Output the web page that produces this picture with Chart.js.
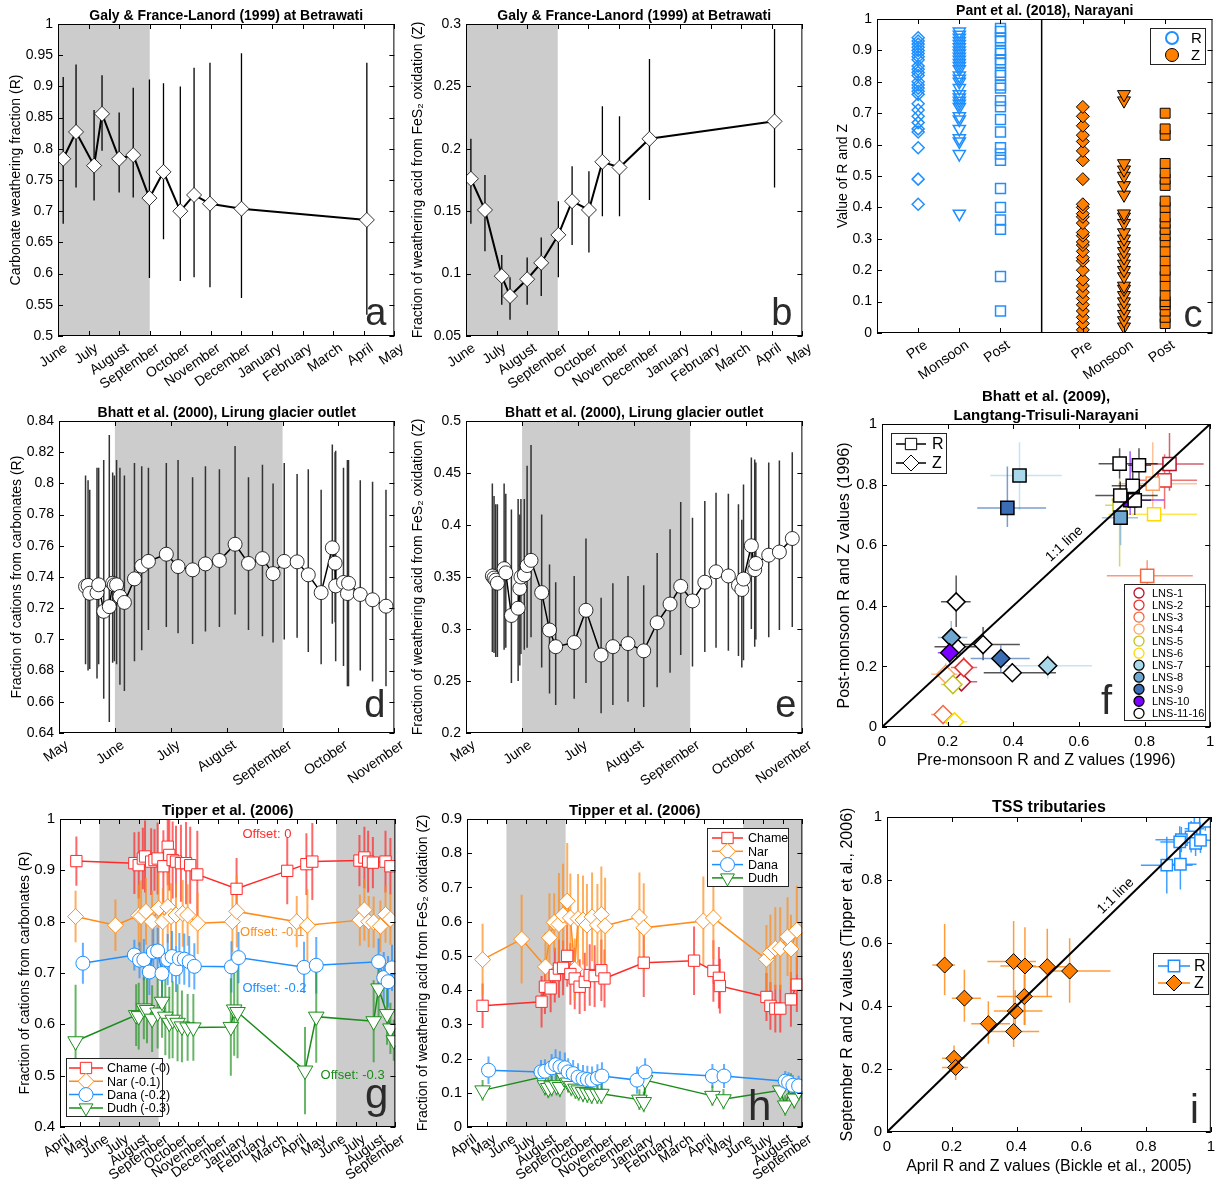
<!DOCTYPE html>
<html>
<head>
<meta charset="utf-8">
<script src="https://cdn.jsdelivr.net/npm/chart.js@4.4.1/dist/chart.umd.min.js"></script>
<style>
  html, body { margin: 0; padding: 0; background: #fff; }
  #root { position: relative; width: 1221px; height: 1184px; overflow: hidden; background: #fff; }
</style>
</head>
<body>
<div id="root"></div>
<script>
// ---------- data ----------
// panel a / b : Galy & France-Lanord (1999), x = months since 1 June
const monthsA = ['June','July','August','September','October','November','December','January','February','March','April','May'];
const aX  = [0.17, 0.59, 1.18, 1.44, 2.0, 2.46, 2.99, 3.45, 4.0, 4.45, 4.97, 6.0, 10.1];
const aY  = [0.784, 0.827, 0.773, 0.856, 0.784, 0.790, 0.721, 0.763, 0.700, 0.726, 0.712, 0.704, 0.686];
const aLo = [0.68, 0.738, 0.717, 0.797, 0.73, 0.722, 0.593, 0.655, 0.588, 0.594, 0.578, 0.561, 0.534];
const aHi = [0.915, 0.935, 0.862, 0.918, 0.858, 0.898, 0.911, 0.905, 0.90, 0.930, 0.938, 0.953, 0.938];
const bX  = [0.16, 0.62, 1.17, 1.44, 2.0, 2.46, 3.02, 3.47, 4.02, 4.46, 5.02, 6.0, 10.09];
const bY  = [0.176, 0.151, 0.098, 0.082, 0.0955, 0.1086, 0.131, 0.158, 0.151, 0.1896, 0.185, 0.208, 0.222];
const bLo = [0.14, 0.118, 0.075, 0.063, 0.075, 0.082, 0.097, 0.123, 0.117, 0.146, 0.146, 0.159, 0.169];
const bHi = [0.208, 0.179, 0.115, 0.097, 0.113, 0.129, 0.158, 0.186, 0.182, 0.234, 0.226, 0.272, 0.296];
const abMonsoon = [0, 3];

// panel c : Pant et al. (2018)
const cPos = [1, 2, 3, 5, 6, 7];
const cTickLabels = ['', 'Pre', 'Monsoon', 'Post', '', 'Pre', 'Monsoon', 'Post'];
const cDividerX = 4;
const cRPre  = [0.41, 0.49, 0.59, 0.64, 0.65, 0.67, 0.69, 0.71, 0.73, 0.76, 0.77, 0.78, 0.79, 0.80, 0.82, 0.83, 0.84, 0.85, 0.87, 0.88, 0.89, 0.90, 0.91, 0.92, 0.93, 0.94];
const cRMon  = [0.38, 0.57, 0.61, 0.62, 0.65, 0.68, 0.69, 0.72, 0.73, 0.74, 0.75, 0.76, 0.78, 0.80, 0.81, 0.82, 0.84, 0.85, 0.86, 0.87, 0.88, 0.89, 0.90, 0.91, 0.92, 0.93, 0.94, 0.95, 0.96];
const cRPost = [0.07, 0.18, 0.33, 0.36, 0.40, 0.46, 0.55, 0.57, 0.59, 0.64, 0.68, 0.72, 0.74, 0.78, 0.79, 0.82, 0.83, 0.86, 0.87, 0.89, 0.90, 0.93, 0.94, 0.96, 0.97];
const cZPre  = [0.01, 0.03, 0.05, 0.07, 0.09, 0.11, 0.13, 0.15, 0.17, 0.20, 0.23, 0.24, 0.26, 0.28, 0.29, 0.31, 0.32, 0.35, 0.37, 0.38, 0.40, 0.41, 0.49, 0.55, 0.58, 0.61, 0.63, 0.66, 0.69, 0.72];
const cZMon  = [0.02, 0.04, 0.06, 0.08, 0.10, 0.12, 0.14, 0.15, 0.18, 0.20, 0.22, 0.24, 0.26, 0.28, 0.30, 0.32, 0.35, 0.37, 0.38, 0.44, 0.47, 0.50, 0.52, 0.54, 0.74, 0.76];
const cZPost = [0.03, 0.05, 0.07, 0.09, 0.10, 0.12, 0.15, 0.18, 0.20, 0.23, 0.26, 0.29, 0.31, 0.33, 0.35, 0.37, 0.40, 0.42, 0.47, 0.49, 0.51, 0.54, 0.63, 0.65, 0.70];

// panel d / e : Bhatt et al. (2000), x = months since 1 May
const monthsD = ['May','June','July','August','September','October','November'];
const deMonsoon = [1, 4];
const dX  = [0.475,0.52,0.55,0.68,0.71,0.80,0.90,0.96,0.99,1.03,1.09,1.17,1.35,1.48,1.60,1.92,2.13,2.39,2.62,2.87,3.15,3.39,3.64,3.83,4.03,4.26,4.46,4.69,4.89,4.94,4.95,5.09,5.16,5.18,5.39,5.61,5.85];
const dY  = [0.734,0.7346,0.7296,0.730,0.735,0.718,0.721,0.736,0.735,0.735,0.7275,0.7237,0.7388,0.747,0.750,0.7546,0.7467,0.7446,0.7484,0.7506,0.761,0.7487,0.7518,0.7422,0.750,0.7497,0.7414,0.730,0.7587,0.7489,0.7343,0.7365,0.7294,0.736,0.7288,0.7254,0.7213];
const dLo = [0.684,0.68,0.681,0.675,0.684,0.662,0.647,0.685,0.686,0.684,0.671,0.667,0.686,0.693,0.706,0.708,0.704,0.697,0.705,0.708,0.716,0.706,0.702,0.698,0.70,0.701,0.692,0.684,0.71,0.711,0.686,0.683,0.67,0.67,0.68,0.673,0.67];
const dHi = [0.805,0.802,0.796,0.81,0.81,0.815,0.831,0.807,0.805,0.815,0.81,0.805,0.813,0.811,0.81,0.813,0.815,0.804,0.811,0.809,0.824,0.804,0.812,0.80,0.813,0.806,0.809,0.796,0.825,0.82,0.821,0.81,0.815,0.815,0.802,0.801,0.796];
const eX  = [0.47,0.50,0.53,0.56,0.68,0.71,0.81,0.93,0.96,0.98,1.04,1.09,1.16,1.35,1.49,1.60,1.93,2.14,2.41,2.62,2.89,3.17,3.41,3.64,3.83,4.04,4.26,4.46,4.68,4.86,4.92,4.95,5.09,5.15,5.17,5.40,5.59,5.82];
const eY  = [0.351,0.349,0.347,0.344,0.358,0.354,0.313,0.320,0.339,0.350,0.352,0.361,0.366,0.335,0.299,0.283,0.287,0.318,0.275,0.283,0.286,0.279,0.306,0.324,0.341,0.327,0.345,0.355,0.351,0.342,0.338,0.348,0.380,0.357,0.363,0.371,0.374,0.387];
const eLo = [0.278,0.277,0.273,0.273,0.28,0.282,0.248,0.25,0.265,0.276,0.28,0.282,0.292,0.263,0.238,0.227,0.233,0.248,0.219,0.227,0.23,0.225,0.244,0.258,0.275,0.264,0.278,0.282,0.279,0.274,0.263,0.27,0.30,0.283,0.29,0.292,0.299,0.302];
const eHi = [0.44,0.428,0.42,0.42,0.44,0.43,0.415,0.425,0.41,0.425,0.425,0.457,0.477,0.41,0.362,0.345,0.351,0.387,0.33,0.344,0.351,0.342,0.373,0.396,0.422,0.407,0.423,0.431,0.43,0.42,0.405,0.439,0.465,0.463,0.46,0.46,0.462,0.47];

// panel f : Bhatt et al. (2009)
const fStations = ['LNS-1','LNS-2','LNS-3','LNS-4','LNS-5','LNS-6','LNS-7','LNS-8','LNS-9','LNS-10','LNS-11-16'];
const fColors = ['#b5152b','#e8312e','#f4683f','#fca464','#c2c21f','#ffd900','#a8d8ea','#6ca6d1','#3b6db4','#7a00ff','#000000'];
const fFilled = [false, false, false, false, false, false, true, true, true, true, false];
const fRSta = [0, 1, 2, 3, 4, 5, 6, 7, 8, 9, 10, 10, 10, 10, 10];
const fRX   = [0.876, 0.861, 0.808, 0.825, 0.724, 0.829, 0.419, 0.727, 0.382, 0.756, 0.724, 0.783, 0.764, 0.726, 0.770];
const fRY   = [0.868, 0.814, 0.499, 0.803, 0.732, 0.702, 0.830, 0.691, 0.723, 0.749, 0.869, 0.864, 0.796, 0.764, 0.748];
const fRXLo = [0.78, 0.77, 0.685, 0.72, 0.68, 0.69, 0.33, 0.67, 0.29, 0.70, 0.66, 0.75, 0.70, 0.65, 0.72];
const fRXHi = [0.98, 0.96, 0.947, 0.96, 0.76, 0.96, 0.548, 0.78, 0.50, 0.86, 0.84, 0.82, 0.83, 0.84, 0.82];
const fRYLo = [0.78, 0.72, 0.46, 0.68, 0.53, 0.69, 0.715, 0.60, 0.66, 0.70, 0.82, 0.82, 0.76, 0.72, 0.70];
const fRYHi = [0.97, 0.90, 0.55, 0.94, 0.82, 0.72, 0.94, 0.75, 0.86, 0.91, 0.92, 0.92, 0.84, 0.81, 0.80];
const fZSta = [10, 10, 10, 10, 6, 7, 8, 9, 0, 1, 2, 3, 4, 5];
const fZX   = [0.226, 0.308, 0.397, 0.226, 0.505, 0.211, 0.362, 0.206, 0.242, 0.249, 0.186, 0.194, 0.216, 0.221];
const fZY   = [0.413, 0.272, 0.179, 0.265, 0.202, 0.295, 0.226, 0.245, 0.149, 0.196, 0.041, 0.174, 0.140, 0.017];
const fZXLo = [0.18, 0.23, 0.31, 0.16, 0.37, 0.17, 0.27, 0.17, 0.20, 0.21, 0.15, 0.15, 0.18, 0.18];
const fZXHi = [0.27, 0.42, 0.53, 0.30, 0.64, 0.26, 0.45, 0.24, 0.29, 0.29, 0.22, 0.23, 0.24, 0.26];
const fZYLo = [0.33, 0.22, 0.15, 0.23, 0.16, 0.26, 0.18, 0.21, 0.12, 0.16, 0.02, 0.14, 0.11, 0.00];
const fZYHi = [0.50, 0.33, 0.21, 0.30, 0.24, 0.35, 0.27, 0.28, 0.18, 0.23, 0.06, 0.21, 0.17, 0.04];

// panel g / h : Tipper et al. (2006), x = months since 1 April
const monthsG = ['April','May','June','July','August','September','October','November','December','January','February','March','April','May','June','July','August','September'];
const ghMonsoon = [[2, 5], [14, 17]];
const gChameX = [0.83,3.77,3.99,4.2,4.31,4.62,4.79,4.95,5.24,5.46,5.54,5.71,5.88,6.13,6.39,6.6,6.96,8.95,11.52,12.49,12.79,15.18,15.43,15.62,15.86,16.5,16.75];
const gChameY = [0.918,0.914,0.91,0.923,0.927,0.917,0.92,0.923,0.908,0.946,0.93,0.92,0.917,0.914,0.914,0.91,0.892,0.864,0.899,0.912,0.917,0.919,0.925,0.917,0.915,0.917,0.908];
const gChameE = [0.048,0.06,0.065,0.06,0.07,0.065,0.06,0.07,0.07,0.075,0.07,0.075,0.07,0.075,0.08,0.075,0.085,0.06,0.065,0.06,0.075,0.05,0.06,0.06,0.05,0.06,0.055];
const gNarX = [0.79,2.81,3.99,4.11,4.36,4.67,5.0,5.21,5.46,5.63,5.88,6.22,6.47,6.98,8.74,8.96,12.0,12.54,15.2,15.43,15.65,15.9,16.24,16.5,16.75];
const gNarY = [0.81,0.793,0.812,0.81,0.82,0.80,0.826,0.80,0.829,0.81,0.813,0.816,0.813,0.797,0.80,0.82,0.80,0.793,0.803,0.823,0.80,0.799,0.791,0.814,0.805];
const gNarE = [0.05,0.05,0.06,0.07,0.065,0.06,0.07,0.065,0.07,0.065,0.06,0.065,0.06,0.06,0.06,0.07,0.05,0.07,0.05,0.06,0.05,0.05,0.05,0.055,0.05];
const gDanaX = [1.16,3.77,4.03,4.25,4.53,4.73,4.95,5.17,5.46,5.68,5.88,6.05,6.3,6.55,6.81,8.69,9.05,12.37,12.99,16.15,16.41,16.63,16.83];
const gDanaY = [0.719,0.735,0.725,0.726,0.702,0.741,0.743,0.699,0.726,0.732,0.708,0.728,0.727,0.722,0.713,0.712,0.730,0.711,0.715,0.722,0.691,0.683,0.710];
const gDanaE = [0.04,0.03,0.035,0.04,0.045,0.05,0.045,0.05,0.05,0.05,0.045,0.05,0.05,0.05,0.045,0.05,0.05,0.05,0.055,0.045,0.05,0.05,0.045];
const gDudhX = [0.79,3.86,3.99,4.25,4.41,4.67,4.95,5.17,5.34,5.54,5.71,5.96,6.18,6.47,6.76,8.66,8.83,9.0,12.42,12.99,15.9,16.15,16.58,16.75,16.92];
const gDudhY = [0.567,0.618,0.616,0.631,0.628,0.611,0.623,0.644,0.615,0.603,0.609,0.603,0.596,0.594,0.594,0.595,0.629,0.624,0.51,0.615,0.606,0.67,0.62,0.592,0.569];
const gDudhE = [0.11,0.06,0.065,0.06,0.065,0.065,0.07,0.07,0.075,0.07,0.075,0.075,0.07,0.065,0.065,0.095,0.09,0.09,0.085,0.09,0.08,0.06,0.06,0.05,0.04];

const hChameX = [0.79,3.78,3.95,4.24,4.45,4.66,4.87,5.08,5.24,5.46,5.71,5.97,6.22,6.47,6.81,6.97,8.96,11.51,12.49,12.77,12.82,15.18,15.38,15.63,15.88,16.42,16.72];
const hChameY = [0.354,0.366,0.41,0.405,0.444,0.463,0.465,0.50,0.447,0.434,0.41,0.424,0.444,0.441,0.458,0.434,0.48,0.486,0.456,0.436,0.412,0.38,0.354,0.346,0.346,0.373,0.416];
const hChameE = [0.065,0.075,0.08,0.07,0.08,0.085,0.08,0.09,0.09,0.09,0.08,0.085,0.09,0.09,0.09,0.085,0.1,0.1,0.09,0.09,0.08,0.07,0.07,0.07,0.07,0.08,0.08];
const hNarX = [0.79,2.77,3.98,4.18,4.42,4.66,4.87,5.08,5.24,5.46,5.63,5.88,6.08,6.34,6.61,6.81,7.0,8.74,8.96,11.98,12.49,15.18,15.38,15.63,15.88,16.25,16.42,16.72];
const hNarY = [0.489,0.549,0.468,0.553,0.598,0.592,0.619,0.66,0.611,0.461,0.609,0.605,0.59,0.614,0.59,0.621,0.588,0.614,0.582,0.602,0.611,0.49,0.51,0.522,0.522,0.556,0.52,0.575];
const hNarE = [0.105,0.13,0.1,0.13,0.085,0.15,0.15,0.17,0.13,0.09,0.13,0.13,0.12,0.13,0.12,0.14,0.14,0.13,0.13,0.13,0.12,0.1,0.11,0.12,0.12,0.115,0.1,0.13];
const hDanaX = [1.09,3.75,3.95,4.29,4.49,4.71,4.96,5.13,5.38,5.63,5.88,6.1,6.34,6.61,6.84,8.62,9.03,12.44,13.03,16.13,16.3,16.52,16.81];
const hDanaY = [0.166,0.161,0.163,0.173,0.182,0.176,0.173,0.161,0.156,0.146,0.141,0.139,0.137,0.143,0.149,0.137,0.161,0.149,0.149,0.134,0.13,0.122,0.12];
const hDanaE = [0.04,0.035,0.035,0.04,0.045,0.045,0.045,0.04,0.04,0.04,0.04,0.04,0.04,0.04,0.04,0.04,0.04,0.035,0.035,0.03,0.03,0.03,0.03];
const hDudhX = [0.79,3.78,3.95,4.12,4.29,4.54,4.71,4.92,5.13,5.29,5.5,5.66,5.88,6.1,6.32,6.61,6.81,8.74,8.96,9.03,12.44,13.0,15.88,16.13,16.42,16.59,16.81];
const hDudhY = [0.107,0.146,0.122,0.114,0.119,0.122,0.117,0.143,0.13,0.12,0.112,0.107,0.102,0.1,0.097,0.097,0.097,0.08,0.073,0.137,0.091,0.081,0.107,0.063,0.122,0.083,0.107];
const hDudhE = [0.03,0.03,0.03,0.03,0.03,0.03,0.03,0.035,0.03,0.03,0.03,0.03,0.03,0.03,0.03,0.03,0.03,0.03,0.03,0.04,0.03,0.03,0.03,0.03,0.035,0.03,0.03];

// panel i : TSS tributaries
const iRX = [0.983, 0.949, 0.939, 0.953, 0.968, 0.909, 0.904, 0.864, 0.906];
const iRY = [0.986, 0.963, 0.937, 0.916, 0.926, 0.928, 0.921, 0.847, 0.850];
const iRXE = [0.02, 0.03, 0.04, 0.02, 0.03, 0.08, 0.06, 0.08, 0.05];
const iRYE = [0.03, 0.04, 0.05, 0.04, 0.04, 0.04, 0.05, 0.09, 0.08];
const iZX = [0.178, 0.239, 0.207, 0.212, 0.313, 0.391, 0.426, 0.396, 0.424, 0.391, 0.495, 0.564];
const iZY = [0.530, 0.425, 0.234, 0.205, 0.344, 0.541, 0.527, 0.384, 0.430, 0.319, 0.525, 0.511];
const iZXLo = [0.14, 0.20, 0.17, 0.17, 0.26, 0.31, 0.35, 0.33, 0.34, 0.32, 0.45, 0.49];
const iZXHi = [0.21, 0.29, 0.24, 0.25, 0.38, 0.46, 0.46, 0.48, 0.51, 0.47, 0.57, 0.69];
const iZYLo = [0.435, 0.35, 0.20, 0.165, 0.28, 0.39, 0.34, 0.33, 0.34, 0.27, 0.43, 0.41];
const iZYHi = [0.66, 0.515, 0.275, 0.24, 0.415, 0.67, 0.65, 0.45, 0.50, 0.37, 0.645, 0.615];
const oneToOne = [0, 1];

// ---------- styling ----------
const FONT = "'Liberation Sans', Arial, Helvetica, sans-serif";
Chart.defaults.font.family = FONT;
Chart.defaults.color = '#000';
Chart.defaults.animation = false;

const BLUE = '#1f8fff', ORANGE = '#ff8000', RED = '#ff2a2a', GOLD = '#ff8c1a', GREEN = '#1a8c1a';

const pts = (xs, ys) => xs.map((x, i) => ({x, y: ys[i]}));
const lo = (ys, es) => ys.map((y, i) => y - es[i]);
const hi = (ys, es) => ys.map((y, i) => y + es[i]);

// draw a marker by hand (legends)
function marker(ctx, style, x, y, r, fill, stroke, lw) {
  ctx.beginPath();
  if (style === 'circle') ctx.arc(x, y, r, 0, Math.PI * 2);
  else if (style === 'rect') { const s = r * Math.SQRT1_2; ctx.rect(x - s, y - s, 2 * s, 2 * s); }
  else if (style === 'rectRot') { ctx.moveTo(x - r, y); ctx.lineTo(x, y - r); ctx.lineTo(x + r, y); ctx.lineTo(x, y + r); ctx.closePath(); }
  else if (style === 'triDown') {
    ctx.moveTo(x, y + r); ctx.lineTo(x - 0.866 * r, y - 0.5 * r); ctx.lineTo(x + 0.866 * r, y - 0.5 * r); ctx.closePath();
  }
  if (fill) { ctx.fillStyle = fill; ctx.fill(); }
  ctx.lineWidth = lw || 1; ctx.strokeStyle = stroke; ctx.stroke();
}

// matlab-like frame, shading, error bars, titles, legends
const matlab = {
  id: 'matlab',
  beforeDatasetsDraw(chart, args, o) {
    const {ctx, chartArea: a} = chart;
    const sx = chart.scales.x, sy = chart.scales.y;
    ctx.save();
    ctx.beginPath(); ctx.rect(a.left, a.top, a.right - a.left, a.bottom - a.top); ctx.clip();
    (o.shade || []).forEach(s => {
      const p0 = sx.getPixelForValue(s[0]), p1 = sx.getPixelForValue(s[1]);
      ctx.fillStyle = '#cccccc';
      ctx.fillRect(p0, a.top, p1 - p0, a.bottom - a.top);
    });
    chart.data.datasets.forEach((ds, i) => {
      if (!ds.yLo && !ds.xLo) return;
      const els = chart.getDatasetMeta(i).data;
      ctx.lineWidth = ds.errWidth || 1.5;
      els.forEach((p, j) => {
        ctx.strokeStyle = Array.isArray(ds.errColor) ? ds.errColor[j] : ds.errColor;
        ctx.beginPath();
        if (ds.yLo) { ctx.moveTo(p.x, sy.getPixelForValue(ds.yLo[j])); ctx.lineTo(p.x, sy.getPixelForValue(ds.yHi[j])); }
        if (ds.xLo) { ctx.moveTo(sx.getPixelForValue(ds.xLo[j]), p.y); ctx.lineTo(sx.getPixelForValue(ds.xHi[j]), p.y); }
        ctx.stroke();
      });
    });
    ctx.restore();
  },
  afterDraw(chart, args, o) {
    const {ctx, chartArea: a} = chart;
    const sx = chart.scales.x, sy = chart.scales.y;
    ctx.save();
    // frame + inward ticks
    ctx.strokeStyle = '#000'; ctx.lineWidth = 1;
    ctx.strokeRect(a.left + 0.5, a.top + 0.5, a.right - a.left - 1, a.bottom - a.top - 1);
    ctx.beginPath();
    sx.ticks.forEach(t => {
      const p = Math.round(sx.getPixelForValue(t.value)) + 0.5;
      ctx.moveTo(p, a.bottom); ctx.lineTo(p, a.bottom - 5);
      ctx.moveTo(p, a.top); ctx.lineTo(p, a.top + 5);
    });
    sy.ticks.forEach(t => {
      const p = Math.round(sy.getPixelForValue(t.value)) + 0.5;
      ctx.moveTo(a.left, p); ctx.lineTo(a.left + 5, p);
      ctx.moveTo(a.right, p); ctx.lineTo(a.right - 5, p);
    });
    ctx.stroke();
    // title
    if (o.title) {
      const n = o.title.length, size = o.titleSize || 14;
      ctx.font = `bold ${size}px ${FONT}`; ctx.fillStyle = '#000';
      ctx.textAlign = 'center'; ctx.textBaseline = 'bottom';
      o.title.forEach((line, k) => ctx.fillText(line, (a.left + a.right) / 2, a.top - 1 - (n - 1 - k) * (size + 4)));
    }
    // annotations in data coordinates
    (o.texts || []).forEach(t => {
      ctx.save();
      ctx.translate(sx.getPixelForValue(t.x), sy.getPixelForValue(t.y));
      if (t.diag) ctx.rotate(Math.atan2(sy.getPixelForValue(1) - sy.getPixelForValue(0), sx.getPixelForValue(1) - sx.getPixelForValue(0)));
      ctx.font = `${t.size || 13}px ${FONT}`; ctx.fillStyle = t.color || '#000';
      ctx.textAlign = t.align || 'center'; ctx.textBaseline = 'middle';
      ctx.fillText(t.text, 0, 0);
      ctx.restore();
    });
    // legends
    (o.legends || []).forEach(L => {
      const x0 = a.left + L.lx, y0 = a.top + L.ly;
      ctx.fillStyle = '#fff'; ctx.fillRect(x0, y0, L.w, L.h);
      ctx.strokeStyle = '#222'; ctx.lineWidth = 1; ctx.strokeRect(x0 + 0.5, y0 + 0.5, L.w, L.h);
      L.rows.forEach(r => {
        const yy = y0 + r.y;
        if (L.line) {
          ctx.strokeStyle = r.stroke; ctx.lineWidth = 1.5;
          ctx.beginPath(); ctx.moveTo(x0 + L.line[0], yy); ctx.lineTo(x0 + L.line[1], yy); ctx.stroke();
        }
        marker(ctx, r.style, x0 + L.mx, yy, r.r, r.fill, r.border || r.stroke, r.lw || 1);
        ctx.font = `${L.size}px ${FONT}`; ctx.fillStyle = '#000';
        ctx.textAlign = 'left'; ctx.textBaseline = 'middle';
        ctx.fillText(r.label, x0 + L.tx, yy + 1);
      });
    });
    // panel letter
    if (o.letter) {
      ctx.font = `${o.letter.size || 38}px ${FONT}`; ctx.fillStyle = '#2b2b2b';
      ctx.textAlign = 'right'; ctx.textBaseline = 'alphabetic';
      ctx.fillText(o.letter.t, a.right + o.letter.dx, a.bottom + o.letter.dy);
    }
    ctx.restore();
  }
};

function axis(o) {
  const ax = {
    type: 'linear', min: o.min, max: o.max,
    grid: { display: false, drawTicks: false }, border: { display: false },
    ticks: {
      stepSize: o.step, autoSkip: false, padding: o.pad != null ? o.pad : (o.rot ? 4 : 5),
      labelOffset: o.rot ? 8 : 0,
      font: { size: o.fs || 14 },
      maxRotation: o.rot || 0, minRotation: o.rot || 0,
      callback: o.labels ? (v => o.labels[Math.round(v)]) : (v => String(+(+v).toFixed(3)))
    },
    title: o.title ? { display: true, text: o.title, font: { size: o.tfs || 14 }, padding: { top: 0, bottom: 0 } } : { display: false },
    afterFit: s => { if (s.isHorizontal()) s.height = o.size; else s.width = o.size; }
  };
  if (o.ticks) ax.afterBuildTicks = s => { s.ticks = o.ticks.map(v => ({ value: v })); };
  return ax;
}

const root = document.getElementById('root');
function panel(box, m, datasets, xAx, yAx, deco) {
  const cv = document.createElement('canvas');
  const w = box[2] - box[0] + m.W + m.R, h = box[3] - box[1] + m.T + m.H;
  cv.width = w; cv.height = h;
  cv.style.cssText = `position:absolute;left:${box[0] - m.W}px;top:${box[1] - m.T}px;width:${w}px;height:${h}px`;
  root.appendChild(cv);
  xAx.size = m.H; yAx.size = m.W;
  return new Chart(cv, {
    type: 'scatter',
    data: { datasets },
    options: {
      responsive: false, animation: false, events: [],
      layout: { padding: { left: 0, top: m.T, right: m.R, bottom: 0 } },
      scales: { x: axis(xAx), y: axis(yAx) },
      plugins: { legend: { display: false }, tooltip: { enabled: false }, matlab: deco }
    },
    plugins: [matlab]
  });
}

// ---------- panel a ----------
panel([58, 24, 396, 336], {W: 50, T: 24, R: 12, H: 75}, [{
  data: pts(aX, aY), showLine: true, borderColor: '#000', borderWidth: 2,
  pointStyle: 'rectRot', pointRadius: 7.5, pointBackgroundColor: '#fff', pointBorderColor: '#000', pointBorderWidth: 0.8,
  yLo: aLo, yHi: aHi, errColor: '#000', errWidth: 1.3
}], {min: 0, max: 11, step: 1, labels: monthsA, rot: 35},
   {min: 0.5, max: 1, step: 0.05, title: 'Carbonate weathering fraction (R)'},
   {shade: [abMonsoon], title: ['Galy & France-Lanord (1999) at Betrawati'], letter: {t: 'a', dx: -8, dy: -11}});

// ---------- panel b ----------
panel([466, 24, 804, 336], {W: 56, T: 24, R: 12, H: 75}, [{
  data: pts(bX, bY), showLine: true, borderColor: '#000', borderWidth: 2,
  pointStyle: 'rectRot', pointRadius: 7.5, pointBackgroundColor: '#fff', pointBorderColor: '#000', pointBorderWidth: 0.8,
  yLo: bLo, yHi: bHi, errColor: '#000', errWidth: 1.3
}], {min: 0, max: 11, step: 1, labels: monthsA, rot: 35},
   {min: 0.05, max: 0.3, step: 0.05, title: 'Fraction of weathering acid from FeS\u2082 oxidation (Z)'},
   {shade: [abMonsoon], title: ['Galy & France-Lanord (1999) at Betrawati'], letter: {t: 'b', dx: -10, dy: -11}});

// ---------- panel c ----------
const cSeries = (vals, pos, style, rot, r, bg, bc, bw) => ({
  data: vals.map(v => ({x: pos, y: v})), showLine: false,
  pointStyle: style, rotation: rot, pointRotation: rot, pointRadius: r,
  pointBackgroundColor: bg, pointBorderColor: bc, pointBorderWidth: bw
});
panel([877, 19, 1213, 333], {W: 42, T: 19, R: 8, H: 60}, [
  {data: [{x: cDividerX, y: 0}, {x: cDividerX, y: 1}], showLine: true, borderColor: '#000', borderWidth: 1.5, pointRadius: 0},
  cSeries(cRPre, cPos[0], 'rectRot', 0, 6, 'rgba(0,0,0,0)', BLUE, 1.5),
  cSeries(cRMon, cPos[1], 'triangle', 180, 7, 'rgba(0,0,0,0)', BLUE, 1.5),
  cSeries(cRPost, cPos[2], 'rect', 0, 7, 'rgba(0,0,0,0)', BLUE, 1.5),
  cSeries(cZPre, cPos[3], 'rectRot', 0, 6.5, ORANGE, '#000', 1),
  cSeries(cZMon, cPos[4], 'triangle', 180, 7.5, ORANGE, '#000', 1),
  cSeries(cZPost, cPos[5], 'rect', 0, 7, ORANGE, '#000', 1)
], {min: 0, max: 8.15, ticks: cPos, labels: cTickLabels, rot: 35},
   {min: 0, max: 1, step: 0.1, title: 'Value of R and Z'},
   {title: ['Pant et al. (2018), Narayani'], letter: {t: 'c', dx: -10, dy: -6},
    legends: [{lx: 273, ly: 9, w: 55, h: 36, mx: 22, tx: 41, size: 15, rows: [
      {y: 10, label: 'R', style: 'circle', r: 6, fill: null, stroke: BLUE, lw: 2},
      {y: 27, label: 'Z', style: 'circle', r: 6.5, fill: ORANGE, stroke: '#000', lw: 1}]}]});

// ---------- panel d ----------
panel([59, 421, 396, 733], {W: 50, T: 24, R: 12, H: 75}, [{
  data: pts(dX, dY), showLine: true, borderColor: '#000', borderWidth: 1.5,
  pointStyle: 'circle', pointRadius: 7, pointBackgroundColor: '#fff', pointBorderColor: '#000', pointBorderWidth: 0.8,
  yLo: dLo, yHi: dHi, errColor: '#333', errWidth: 1.5
}], {min: 0, max: 6, step: 1, labels: monthsD, rot: 35},
   {min: 0.64, max: 0.84, step: 0.02, title: 'Fraction of cations from carbonates (R)'},
   {shade: [deMonsoon], title: ['Bhatt et al. (2000), Lirung glacier outlet'], letter: {t: 'd', dx: -9, dy: -16}});

// ---------- panel e ----------
panel([466, 421, 804, 733], {W: 56, T: 24, R: 12, H: 75}, [{
  data: pts(eX, eY), showLine: true, borderColor: '#000', borderWidth: 1.5,
  pointStyle: 'circle', pointRadius: 7, pointBackgroundColor: '#fff', pointBorderColor: '#000', pointBorderWidth: 0.8,
  yLo: eLo, yHi: eHi, errColor: '#333', errWidth: 1.5
}], {min: 0, max: 6, step: 1, labels: monthsD, rot: 35},
   {min: 0.2, max: 0.5, step: 0.05, title: 'Fraction of weathering acid from FeS\u2082 oxidation (Z)'},
   {shade: [deMonsoon], title: ['Bhatt et al. (2000), Lirung glacier outlet'], letter: {t: 'e', dx: -6, dy: -16}});

// ---------- panel f ----------
const fFill = s => fFilled[s] ? fColors[s] : '#fff';
const fEdge = s => fFilled[s] ? '#000' : fColors[s];
const fErr = s => fColors[s] + 'aa';
panel([882, 424, 1211, 727], {W: 47, T: 44, R: 10, H: 43}, [
  {data: pts(oneToOne, oneToOne), showLine: true, borderColor: '#000', borderWidth: 2, pointRadius: 0},
  {data: pts(fRX, fRY), pointStyle: 'rect', pointRadius: 9.3,
   pointBackgroundColor: fRSta.map(fFill), pointBorderColor: fRSta.map(fEdge), pointBorderWidth: 1.5,
   xLo: fRXLo, xHi: fRXHi, yLo: fRYLo, yHi: fRYHi, errColor: fRSta.map(fErr), errWidth: 1.5},
  {data: pts(fZX, fZY), pointStyle: 'rectRot', pointRadius: 9,
   pointBackgroundColor: fZSta.map(fFill), pointBorderColor: fZSta.map(fEdge), pointBorderWidth: 1.5,
   xLo: fZXLo, xHi: fZXHi, yLo: fZYLo, yHi: fZYHi, errColor: fZSta.map(fErr), errWidth: 1.5}
], {min: 0, max: 1, step: 0.2, fs: 15, tfs: 16, pad: 6, title: 'Pre-monsoon R and Z values (1996)'},
   {min: 0, max: 1, step: 0.2, fs: 15, tfs: 16, title: 'Post-monsoon R and Z values (1996)'},
   {title: ['Bhatt et al. (2009),', 'Langtang-Trisuli-Narayani'], titleSize: 15,
    letter: {t: 'f', dx: -98, dy: -13, size: 40},
    texts: [{x: 0.556, y: 0.604, text: '1:1 line', diag: true, size: 14}],
    legends: [
      {lx: 9, ly: 9, w: 55, h: 40, line: [5, 35], mx: 20, tx: 41, size: 16, rows: [
        {y: 11, label: 'R', style: 'rect', r: 8, fill: '#fff', stroke: '#000'},
        {y: 30, label: 'Z', style: 'rectRot', r: 8, fill: '#fff', stroke: '#000'}]},
      {lx: 242, ly: 160, w: 81, h: 136, mx: 15, tx: 28, size: 11,
       rows: fStations.map((s, k) => ({y: 9 + k * 12.03, label: s, style: 'circle', r: 5, fill: fFill(k), stroke: fEdge(k), lw: 1.3}))}
    ]});

// ---------- panels g / h ----------
const series = (xs, ys, es, col, errCol, style, r) => ({
  data: pts(xs, ys), showLine: true, borderColor: col, borderWidth: 1.5,
  pointStyle: style === 'triDown' ? 'triangle' : style, pointRotation: style === 'triDown' ? 180 : 0,
  pointRadius: r, pointBackgroundColor: '#fff', pointBorderColor: col, pointBorderWidth: 1,
  yLo: lo(ys, es), yHi: hi(ys, es), errColor: errCol, errWidth: 2
});
const legRows = (names) => [
  {label: names[0], style: 'rect', r: 8, fill: '#fff', stroke: RED},
  {label: names[1], style: 'rectRot', r: 8, fill: '#fff', stroke: GOLD},
  {label: names[2], style: 'circle', r: 7, fill: '#fff', stroke: BLUE},
  {label: names[3], style: 'triDown', r: 8, fill: '#fff', stroke: GREEN}
];
panel([60, 819, 397, 1127], {W: 43, T: 24, R: 12, H: 57}, [
  series(gChameX, gChameY, gChameE, RED, 'rgba(255,40,40,0.7)', 'rect', 8),
  series(gNarX, gNarY, gNarE, GOLD, 'rgba(255,140,26,0.7)', 'rectRot', 8),
  series(gDanaX, gDanaY, gDanaE, BLUE, 'rgba(31,143,255,0.7)', 'circle', 7),
  series(gDudhX, gDudhY, gDudhE, GREEN, 'rgba(40,150,40,0.7)', 'triDown', 9)
], {min: 0, max: 17, step: 1, labels: monthsG, rot: 35},
   {min: 0.4, max: 1, step: 0.1, fs: 15, title: 'Fraction of cations from carbonates (R)'},
   {shade: ghMonsoon, title: ['Tipper et al. (2006)'], titleSize: 15, letter: {t: 'g', dx: -7, dy: -19, size: 42},
    texts: [
      {x: 9.25, y: 0.969, text: 'Offset: 0', color: RED, align: 'left'},
      {x: 9.13, y: 0.779, text: 'Offset: -0.1', color: GOLD, align: 'left'},
      {x: 9.25, y: 0.669, text: 'Offset: -0.2', color: BLUE, align: 'left'},
      {x: 13.21, y: 0.50, text: 'Offset: -0.3', color: GREEN, align: 'left'}],
    legends: [{lx: 6, ly: 239, w: 96, h: 58, line: [3, 37], mx: 20, tx: 41, size: 12.5,
      rows: legRows(['Chame (-0)', 'Nar (-0.1)', 'Dana (-0.2)', 'Dudh (-0.3)']).map((r, k) => Object.assign(r, {y: 10 + k * 13.3}))}]});

panel([467, 819, 804, 1127], {W: 52, T: 24, R: 12, H: 57}, [
  series(hChameX, hChameY, hChameE, RED, 'rgba(255,40,40,0.7)', 'rect', 8),
  series(hNarX, hNarY, hNarE, GOLD, 'rgba(255,140,26,0.7)', 'rectRot', 8),
  series(hDanaX, hDanaY, hDanaE, BLUE, 'rgba(31,143,255,0.7)', 'circle', 7),
  series(hDudhX, hDudhY, hDudhE, GREEN, 'rgba(40,150,40,0.7)', 'triDown', 9)
], {min: 0, max: 17, step: 1, labels: monthsG, rot: 35},
   {min: 0, max: 0.9, step: 0.1, fs: 15, title: 'Fraction of weathering acid from FeS\u2082 oxidation (Z)'},
   {shade: ghMonsoon, title: ['Tipper et al. (2006)'], titleSize: 15, letter: {t: 'h', dx: -31, dy: -7, size: 42},
    legends: [{lx: 240, ly: 9, w: 81, h: 58, line: [5, 36], mx: 20.5, tx: 41, size: 12.5,
      rows: legRows(['Chame', 'Nar', 'Dana', 'Dudh']).map((r, k) => Object.assign(r, {y: 10 + k * 13.3}))}]});

// ---------- panel i ----------
panel([887, 817, 1217, 1132], {W: 49, T: 24, R: 4, H: 44}, [
  {data: pts(oneToOne, oneToOne), showLine: true, borderColor: '#000', borderWidth: 2, pointRadius: 0},
  {data: pts(iRX, iRY), pointStyle: 'rect', pointRadius: 8,
   pointBackgroundColor: '#fff', pointBorderColor: BLUE, pointBorderWidth: 1.5,
   xLo: lo(iRX, iRXE), xHi: hi(iRX, iRXE), yLo: lo(iRY, iRYE), yHi: hi(iRY, iRYE), errColor: 'rgba(31,143,255,0.85)', errWidth: 1.5},
  {data: pts(iZX, iZY), pointStyle: 'rectRot', pointRadius: 8,
   pointBackgroundColor: ORANGE, pointBorderColor: '#000', pointBorderWidth: 1,
   xLo: iZXLo, xHi: iZXHi, yLo: iZYLo, yHi: iZYHi, errColor: 'rgba(255,140,26,0.85)', errWidth: 1.5}
], {min: 0, max: 1, step: 0.2, fs: 15, tfs: 16, pad: 6, title: 'April R and Z values (Bickle et al., 2005)'},
   {min: 0, max: 1, step: 0.2, fs: 15, tfs: 16, title: 'September R and Z values (Tipper et al., 2006)'},
   {title: ['TSS tributaries'], titleSize: 16, letter: {t: 'i', dx: -12, dy: -9, size: 40},
    texts: [{x: 0.706, y: 0.749, text: '1:1 line', diag: true, size: 14}],
    legends: [{lx: 266, ly: 136, w: 55, h: 41, line: [5, 37], mx: 21, tx: 41, size: 16, rows: [
      {y: 13, label: 'R', style: 'rect', r: 8, fill: '#fff', stroke: BLUE, lw: 1.5},
      {y: 30, label: 'Z', style: 'rectRot', r: 8, fill: ORANGE, stroke: ORANGE, border: '#000'}]}]});
</script>
</body>
</html>
